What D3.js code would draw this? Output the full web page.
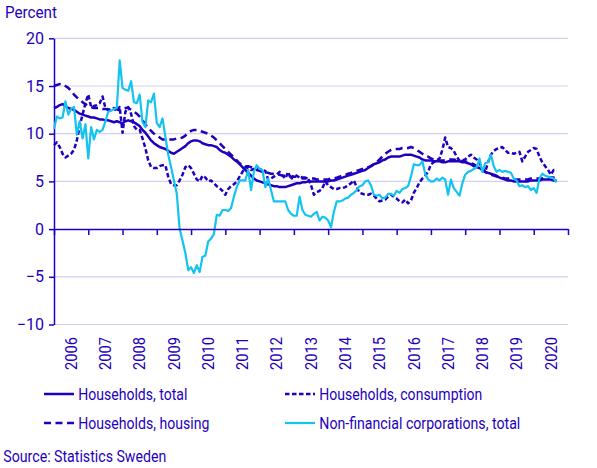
<!DOCTYPE html>
<html><head><meta charset="utf-8">
<script src="https://cdn.jsdelivr.net/npm/d3@7"></script>
<style>
body{margin:0;background:#fff}
svg{display:block}
text{font-family:Roboto, "Noto Sans", sans-serif; fill:#1e00be}
</style>
</head><body>
<svg id="chart" width="597" height="468"></svg>
<script>
// Monthly growth rates, Jan 2006 – Sep 2020 (percent)
const years = ["2006","2007","2008","2009","2010","2011","2012","2013","2014","2015","2016","2017","2018","2019","2020"];
const yTicks = [-10, -5, 0, 5, 10, 15, 20];

const householdsTotal = [
  12.7,12.8,13.0,13.1,12.9,12.7,12.6,12.5,12.3,12.1,12.0,11.9,
  11.8,11.7,11.7,11.6,11.5,11.5,11.4,11.4,11.3,11.2,11.3,11.2,
  11.1,11.3,11.4,11.3,11.2,11.0,10.8,10.4,10.1,9.7,9.3,9.0,
  8.8,8.6,8.5,8.4,8.2,8.0,7.9,8.1,8.3,8.5,8.7,9.0,
  9.2,9.3,9.3,9.2,9.0,8.9,8.8,8.8,8.7,8.6,8.3,8.1,
  8.0,7.8,7.6,7.3,7.1,6.8,6.5,6.2,5.9,5.6,5.3,5.1,
  5.0,4.9,4.8,4.7,4.6,4.5,4.5,4.4,4.4,4.4,4.5,4.6,
  4.7,4.8,4.8,4.9,4.9,5.0,5.0,5.0,5.0,5.0,5.0,5.0,
  5.0,5.1,5.1,5.2,5.3,5.4,5.5,5.6,5.7,5.8,5.9,6.0,
  6.1,6.2,6.4,6.6,6.8,6.9,7.0,7.2,7.3,7.5,7.6,7.6,
  7.6,7.6,7.7,7.8,7.8,7.8,7.7,7.6,7.5,7.3,7.2,7.2,
  7.2,7.1,7.1,7.1,7.0,7.0,7.1,7.1,7.1,7.1,7.1,7.0,
  7.0,6.9,6.8,6.6,6.5,6.4,6.2,6.0,5.9,5.8,5.7,5.6,
  5.4,5.3,5.2,5.1,5.1,5.0,5.0,5.0,5.0,5.0,5.0,5.1,
  5.1,5.1,5.1,5.2,5.2,5.2,5.2,5.1,5.1
];
const householdsConsumption = [
  8.8,9.1,8.6,7.9,7.5,7.7,7.9,8.3,9.3,10.8,12.0,13.2,
  14.1,12.8,12.9,13.0,13.2,13.9,12.7,12.5,12.6,12.7,12.3,12.8,
  10.1,12.3,12.8,12.1,10.8,10.4,10.4,9.5,8.5,7.2,6.5,6.4,
  6.4,6.6,6.7,6.7,5.5,4.7,4.6,4.6,5.1,5.7,6.5,6.7,
  6.4,5.8,5.2,5.0,5.6,5.4,5.0,5.1,4.8,4.5,4.3,4.0,
  3.6,4.2,4.5,4.7,5.0,5.5,6.0,6.5,6.4,6.2,6.3,6.4,
  6.3,6.2,6.1,5.2,5.3,5.5,5.7,6.0,5.6,5.3,6.0,5.2,
  5.7,5.6,5.4,5.3,5.3,5.3,4.6,3.6,3.9,4.0,4.3,5.0,
  4.6,4.4,4.2,4.2,4.3,4.3,4.4,4.6,4.8,5.1,4.4,3.8,
  3.7,3.6,3.6,3.7,3.5,3.2,2.9,3.0,3.1,3.4,3.6,3.4,
  3.2,2.9,2.8,3.1,2.7,3.0,3.8,4.3,4.9,5.3,5.6,6.0,
  6.8,7.0,7.2,7.4,8.3,9.6,8.6,8.5,8.2,7.6,7.2,7.2,
  7.3,7.6,7.8,7.5,7.3,6.9,6.4,6.0,7.0,7.8,8.2,8.4,
  8.5,8.6,8.3,8.0,8.0,7.9,8.0,8.1,7.1,7.6,8.1,8.3,
  8.5,8.4,7.6,7.0,6.6,6.2,5.7,6.2,6.1
];
const householdsHousing = [
  15.0,15.1,15.2,15.2,15.0,14.8,14.5,14.1,13.8,13.6,13.3,13.1,
  12.9,12.8,12.7,12.7,12.7,12.6,12.6,12.5,12.5,12.6,12.7,12.6,
  12.6,12.7,12.7,12.5,12.3,12.1,11.8,11.4,11.0,10.6,10.3,10.0,
  9.8,9.6,9.4,9.4,9.4,9.4,9.4,9.5,9.5,9.6,9.8,10.1,
  10.3,10.4,10.4,10.3,10.2,10.1,10.0,9.8,9.6,9.3,9.0,8.7,
  8.4,8.1,7.8,7.5,7.2,6.9,6.7,6.6,6.6,6.5,6.3,6.2,
  6.1,6.0,5.9,5.9,5.8,5.8,5.7,5.7,5.6,5.6,5.6,5.5,
  5.5,5.5,5.5,5.4,5.4,5.3,5.3,5.3,5.2,5.2,5.2,5.2,
  5.2,5.3,5.3,5.4,5.5,5.6,5.7,5.8,5.9,6.0,6.1,6.2,
  6.3,6.4,6.5,6.6,6.8,7.0,7.3,7.6,7.9,8.1,8.3,8.4,
  8.4,8.4,8.5,8.5,8.5,8.6,8.5,8.3,8.1,7.9,7.7,7.6,
  7.4,7.3,7.2,7.2,7.2,7.2,7.3,7.3,7.3,7.2,7.2,7.1,
  7.1,7.0,6.9,6.8,6.6,6.4,6.2,6.0,5.8,5.7,5.6,5.5,
  5.4,5.4,5.3,5.3,5.3,5.2,5.2,5.2,5.2,5.2,5.2,5.3,
  5.3,5.3,5.3,5.3,5.4,5.4,5.4,5.4,5.3
];
const nonFinancialCorporations = [
  10.5,11.8,11.6,11.7,13.4,12.0,12.6,12.8,9.9,11.3,9.5,11.0,
  7.4,10.7,9.4,10.4,10.2,10.4,11.3,12.3,12.4,12.6,12.7,17.7,
  14.8,14.6,14.5,15.5,13.3,13.2,14.1,11.2,10.7,13.5,13.3,14.2,
  11.1,10.7,11.6,9.7,7.8,6.5,5.1,3.7,0.0,-1.2,-2.5,-4.3,
  -4.0,-4.6,-3.8,-4.5,-2.9,-2.8,-1.3,-1.0,-0.5,1.5,1.4,2.0,
  2.0,1.9,2.2,3.4,4.4,5.1,5.1,5.1,6.2,4.1,6.0,6.7,
  6.3,6.2,4.4,5.3,4.1,2.9,2.9,2.9,2.9,2.9,2.0,1.6,
  1.4,1.4,3.4,2.0,1.5,1.4,1.3,1.6,1.8,0.9,1.3,1.2,
  0.9,0.2,1.8,2.9,2.9,3.0,3.2,3.3,3.6,3.8,4.1,4.5,
  4.6,5.0,5.1,4.6,3.6,3.5,3.6,3.2,3.3,3.7,3.7,3.5,
  4.0,3.8,4.2,4.3,4.5,5.5,6.8,6.7,6.7,7.1,5.8,5.2,
  5.0,5.0,5.3,5.1,5.4,5.2,3.6,5.2,4.3,3.9,3.5,4.8,
  5.7,6.0,6.1,6.3,6.5,7.4,6.0,6.9,7.0,7.8,6.6,6.0,
  6.2,6.0,6.1,6.0,5.9,5.3,5.1,4.5,4.6,4.4,4.5,4.1,
  4.3,3.8,5.3,5.8,5.6,5.5,5.4,5.3,4.9
];

const seriesNames = ["Households, total","Households, consumption","Households, housing","Non-financial corporations, total"];

const DARK = "#1e00be", CYAN = "#14c3f0", GRID = "#d3d0f0";
const series = [
  {name: seriesNames[0], values: householdsTotal, color: DARK, width: 2.5, dash: null, tl: 109},
  {name: seriesNames[1], values: householdsConsumption, color: DARK, width: 2.5, dash: "4.5,2.5", tl: 163},
  {name: seriesNames[2], values: householdsHousing, color: DARK, width: 2.5, dash: "7,4.5", tl: 131},
  {name: seriesNames[3], values: nonFinancialCorporations, color: CYAN, width: 2.2, dash: null, tl: 201}
];

const svg = d3.select("#chart");
const x = d3.scaleLinear().domain([0, years.length * 12]).range([54, 568]);
const y = d3.scaleLinear().domain([-10, 20]).range([324.5, 38.3]);

// grid
svg.append("g").selectAll("line").data(yTicks.filter(v => v !== 0)).join("line")
  .attr("x1", x(0)).attr("x2", x(years.length * 12))
  .attr("y1", d => y(d)).attr("y2", d => y(d))
  .attr("stroke", GRID).attr("stroke-width", 1.2);

// y axis
const yAxis = svg.append("g").attr("transform", `translate(${x(0)},0)`)
  .call(d3.axisLeft(y).tickValues(yTicks).tickSize(5).tickSizeOuter(0).tickPadding(5));
yAxis.select(".domain").attr("stroke", DARK).attr("stroke-width", 1.5);
yAxis.selectAll(".tick line").attr("stroke", DARK).attr("stroke-width", 1.5);
yAxis.selectAll(".tick text").attr("font-size", 16).attr("font-family", "Roboto").attr("fill", DARK);

// lines
const line = d3.line().x((d, i) => x(i)).y(d => y(d));
svg.append("g").selectAll("path").data(series).join("path")
  .attr("d", d => line(d.values))
  .attr("fill", "none")
  .attr("stroke", d => d.color)
  .attr("stroke-width", d => d.width)
  .attr("stroke-dasharray", d => d.dash)
  .attr("stroke-linejoin", "round");

// x axis at zero
const xAxis = svg.append("g").attr("transform", `translate(0,${y(0)})`)
  .call(d3.axisBottom(x).tickValues(d3.range(0, years.length * 12 + 1, 12)).tickSize(6).tickSizeOuter(0).tickFormat(""));
xAxis.select(".domain").attr("stroke", DARK).attr("stroke-width", 1.5);
xAxis.selectAll(".tick line").attr("stroke", DARK).attr("stroke-width", 1.5);

// year labels (rotated)
svg.append("g").selectAll("text").data(years).join("text")
  .attr("transform", (d, i) => `translate(${x(i * 12 + 6)},337) rotate(-90)`)
  .attr("text-anchor", "end")
  .attr("dy", "0.36em")
  .attr("font-size", 16)
  .attr("textLength", 33).attr("lengthAdjust", "spacingAndGlyphs")
  .text(d => d);

// title
svg.append("text").attr("x", 5).attr("y", 17.5).attr("font-size", 16)
  .attr("textLength", 52).attr("lengthAdjust", "spacingAndGlyphs").text("Percent");

// legend
const legendPos = [[44, 394], [285, 394], [44, 423], [285, 423]];
const lg = svg.append("g").selectAll("g").data(series).join("g")
  .attr("transform", (d, i) => `translate(${legendPos[i][0]},${legendPos[i][1]})`);
lg.append("line").attr("x1", 0).attr("x2", 30).attr("y1", 0).attr("y2", 0)
  .attr("stroke", d => d.color).attr("stroke-width", d => d.width)
  .attr("stroke-dasharray", d => d.dash);
lg.append("text").attr("x", 34.3).attr("dy", "0.36em").attr("font-size", 16)
  .attr("textLength", d => d.tl).attr("lengthAdjust", "spacingAndGlyphs")
  .text(d => d.name);

svg.append("text").attr("x", 3.3).attr("y", 461.5).attr("font-size", 16)
  .attr("textLength", 163).attr("lengthAdjust", "spacingAndGlyphs")
  .text("Source: Statistics Sweden");
</script>
</body></html>
